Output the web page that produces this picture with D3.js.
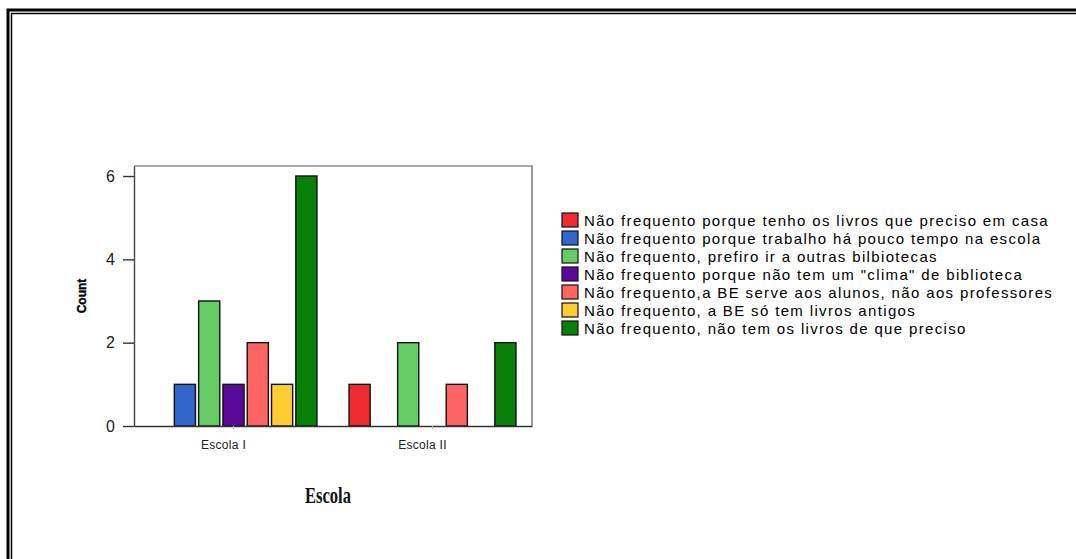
<!DOCTYPE html>
<html>
<head>
<meta charset="utf-8">
<script src="https://cdn.jsdelivr.net/npm/d3@7"></script>
<style>
  body { margin: 0; background: #fff; }
  svg { display: block; }
</style>
</head>
<body>
<svg id="chart" width="1076" height="559"></svg>
<script>
// categories (x axis) and the answer series
const escolas = ["Escola I", "Escola II"];
const respostas = [
  "Não frequento porque tenho os livros que preciso em casa",
  "Não frequento porque trabalho há pouco tempo na escola",
  "Não frequento, prefiro ir a outras bilbiotecas",
  "Não frequento porque não tem um \"clima\" de biblioteca",
  "Não frequento,a BE serve aos alunos, não aos professores",
  "Não frequento, a BE só tem livros antigos",
  "Não frequento, não tem os livros de que preciso"
];
const cores = ["#ee2b2f", "#3366cc", "#66cc66", "#5a0a9a", "#ff6464", "#ffcc33", "#08800a"];
// counts per resposta, one array per escola
const countEscolaI  = [0, 1, 3, 1, 2, 1, 6];
const countEscolaII = [1, 0, 2, 0, 1, 0, 2];
const yTicks = [0, 2, 4, 6];

const svg = d3.select("#chart");

// double frame round the page
svg.append("path").attr("d", "M8,559 V10 H1076").attr("fill", "none")
  .attr("stroke", "#000").attr("stroke-width", 3);
svg.append("path").attr("d", "M11.5,559 V13.5 H1076").attr("fill", "none")
  .attr("stroke", "#000").attr("stroke-width", 1.5);

const plot = { left: 134, right: 532, top: 166, bottom: 426 };

const x0 = d3.scaleBand().domain(escolas).range([plot.left, plot.right]);
const x1 = d3.scaleBand().domain(d3.range(respostas.length))
  .range([0, x0.bandwidth()])
  .paddingInner(0.13)
  .paddingOuter(0.66);
const y = d3.scaleLinear().domain([0, 6.24]).range([plot.bottom, plot.top]);

const data = escolas.map((e, i) => ({
  escola: e,
  values: (i === 0 ? countEscolaI : countEscolaII).map((v, k) => ({ k: k, v: v }))
}));

// plot frame (top + right)
svg.append("path")
  .attr("d", `M${plot.left},${plot.top} H${plot.right} V${plot.bottom}`)
  .attr("fill", "none").attr("stroke", "#555").attr("stroke-width", 1.2);

// bars
svg.append("g").selectAll("g")
  .data(data)
  .enter().append("g")
  .attr("transform", d => `translate(${x0(d.escola)},0)`)
  .selectAll("rect")
  .data(d => d.values.filter(o => o.v > 0))
  .enter().append("rect")
  .attr("x", d => x1(d.k))
  .attr("y", d => y(d.v))
  .attr("width", x1.bandwidth())
  .attr("height", d => y(0) - y(d.v))
  .attr("fill", d => cores[d.k])
  .attr("stroke", "#111")
  .attr("stroke-width", 1.4);

// y axis
const yAxis = svg.append("g")
  .attr("transform", `translate(${plot.left},0)`)
  .call(d3.axisLeft(y).tickValues(yTicks).tickSize(11).tickSizeOuter(0)
    .tickPadding(8).tickFormat(d3.format("d")));
yAxis.select(".domain").attr("stroke", "#444").attr("stroke-width", 1.4);
yAxis.selectAll(".tick line").attr("stroke", "#333").attr("stroke-width", 1.4);
yAxis.selectAll("text").attr("font-family", "Liberation Sans, Arial, sans-serif")
  .attr("font-size", 16).attr("fill", "#222");

// x axis
const xAxis = svg.append("g")
  .attr("transform", `translate(0,${plot.bottom})`)
  .call(d3.axisBottom(x0).tickSize(3).tickSizeOuter(0).tickPadding(11));
xAxis.select(".domain").attr("stroke", "#333").attr("stroke-width", 1.6);
xAxis.selectAll(".tick line").attr("stroke", "#bbb");
xAxis.selectAll("text").attr("font-family", "Liberation Sans, Arial, sans-serif")
  .attr("font-size", 12).attr("letter-spacing", "0.3px").attr("fill", "#222")
  .attr("dx", -10);

// axis titles
svg.append("text")
  .attr("transform", `translate(86,${(plot.top + plot.bottom) / 2}) rotate(-90)`)
  .attr("text-anchor", "middle")
  .attr("font-family", "Liberation Sans, Arial, sans-serif")
  .attr("font-weight", "bold").attr("font-size", 12)
  .attr("stroke", "#000").attr("stroke-width", 0.4)
  .text("Count");

svg.append("text")
  .attr("x", 328).attr("y", 503)
  .attr("text-anchor", "middle")
  .attr("font-family", "Liberation Serif, Times New Roman, serif")
  .attr("font-weight", "bold")
  .attr("font-size", 23)
  .attr("textLength", 46).attr("lengthAdjust", "spacingAndGlyphs")
  .attr("fill", "#111")
  .text("Escola");

// legend
const legend = svg.append("g").attr("transform", "translate(562,213)");
const row = legend.selectAll("g")
  .data(respostas)
  .enter().append("g")
  .attr("transform", (d, i) => `translate(0,${i * 18})`);
row.append("rect")
  .attr("width", 16).attr("height", 14)
  .attr("fill", (d, i) => cores[i])
  .attr("stroke", "#111").attr("stroke-width", 1.2);
row.append("text")
  .attr("x", 22).attr("y", 13)
  .attr("font-family", "Liberation Sans, Arial, sans-serif")
  .attr("font-size", 15).attr("letter-spacing", "1.35px")
  .attr("fill", "#000")
  .text(d => d);
</script>
</body>
</html>
